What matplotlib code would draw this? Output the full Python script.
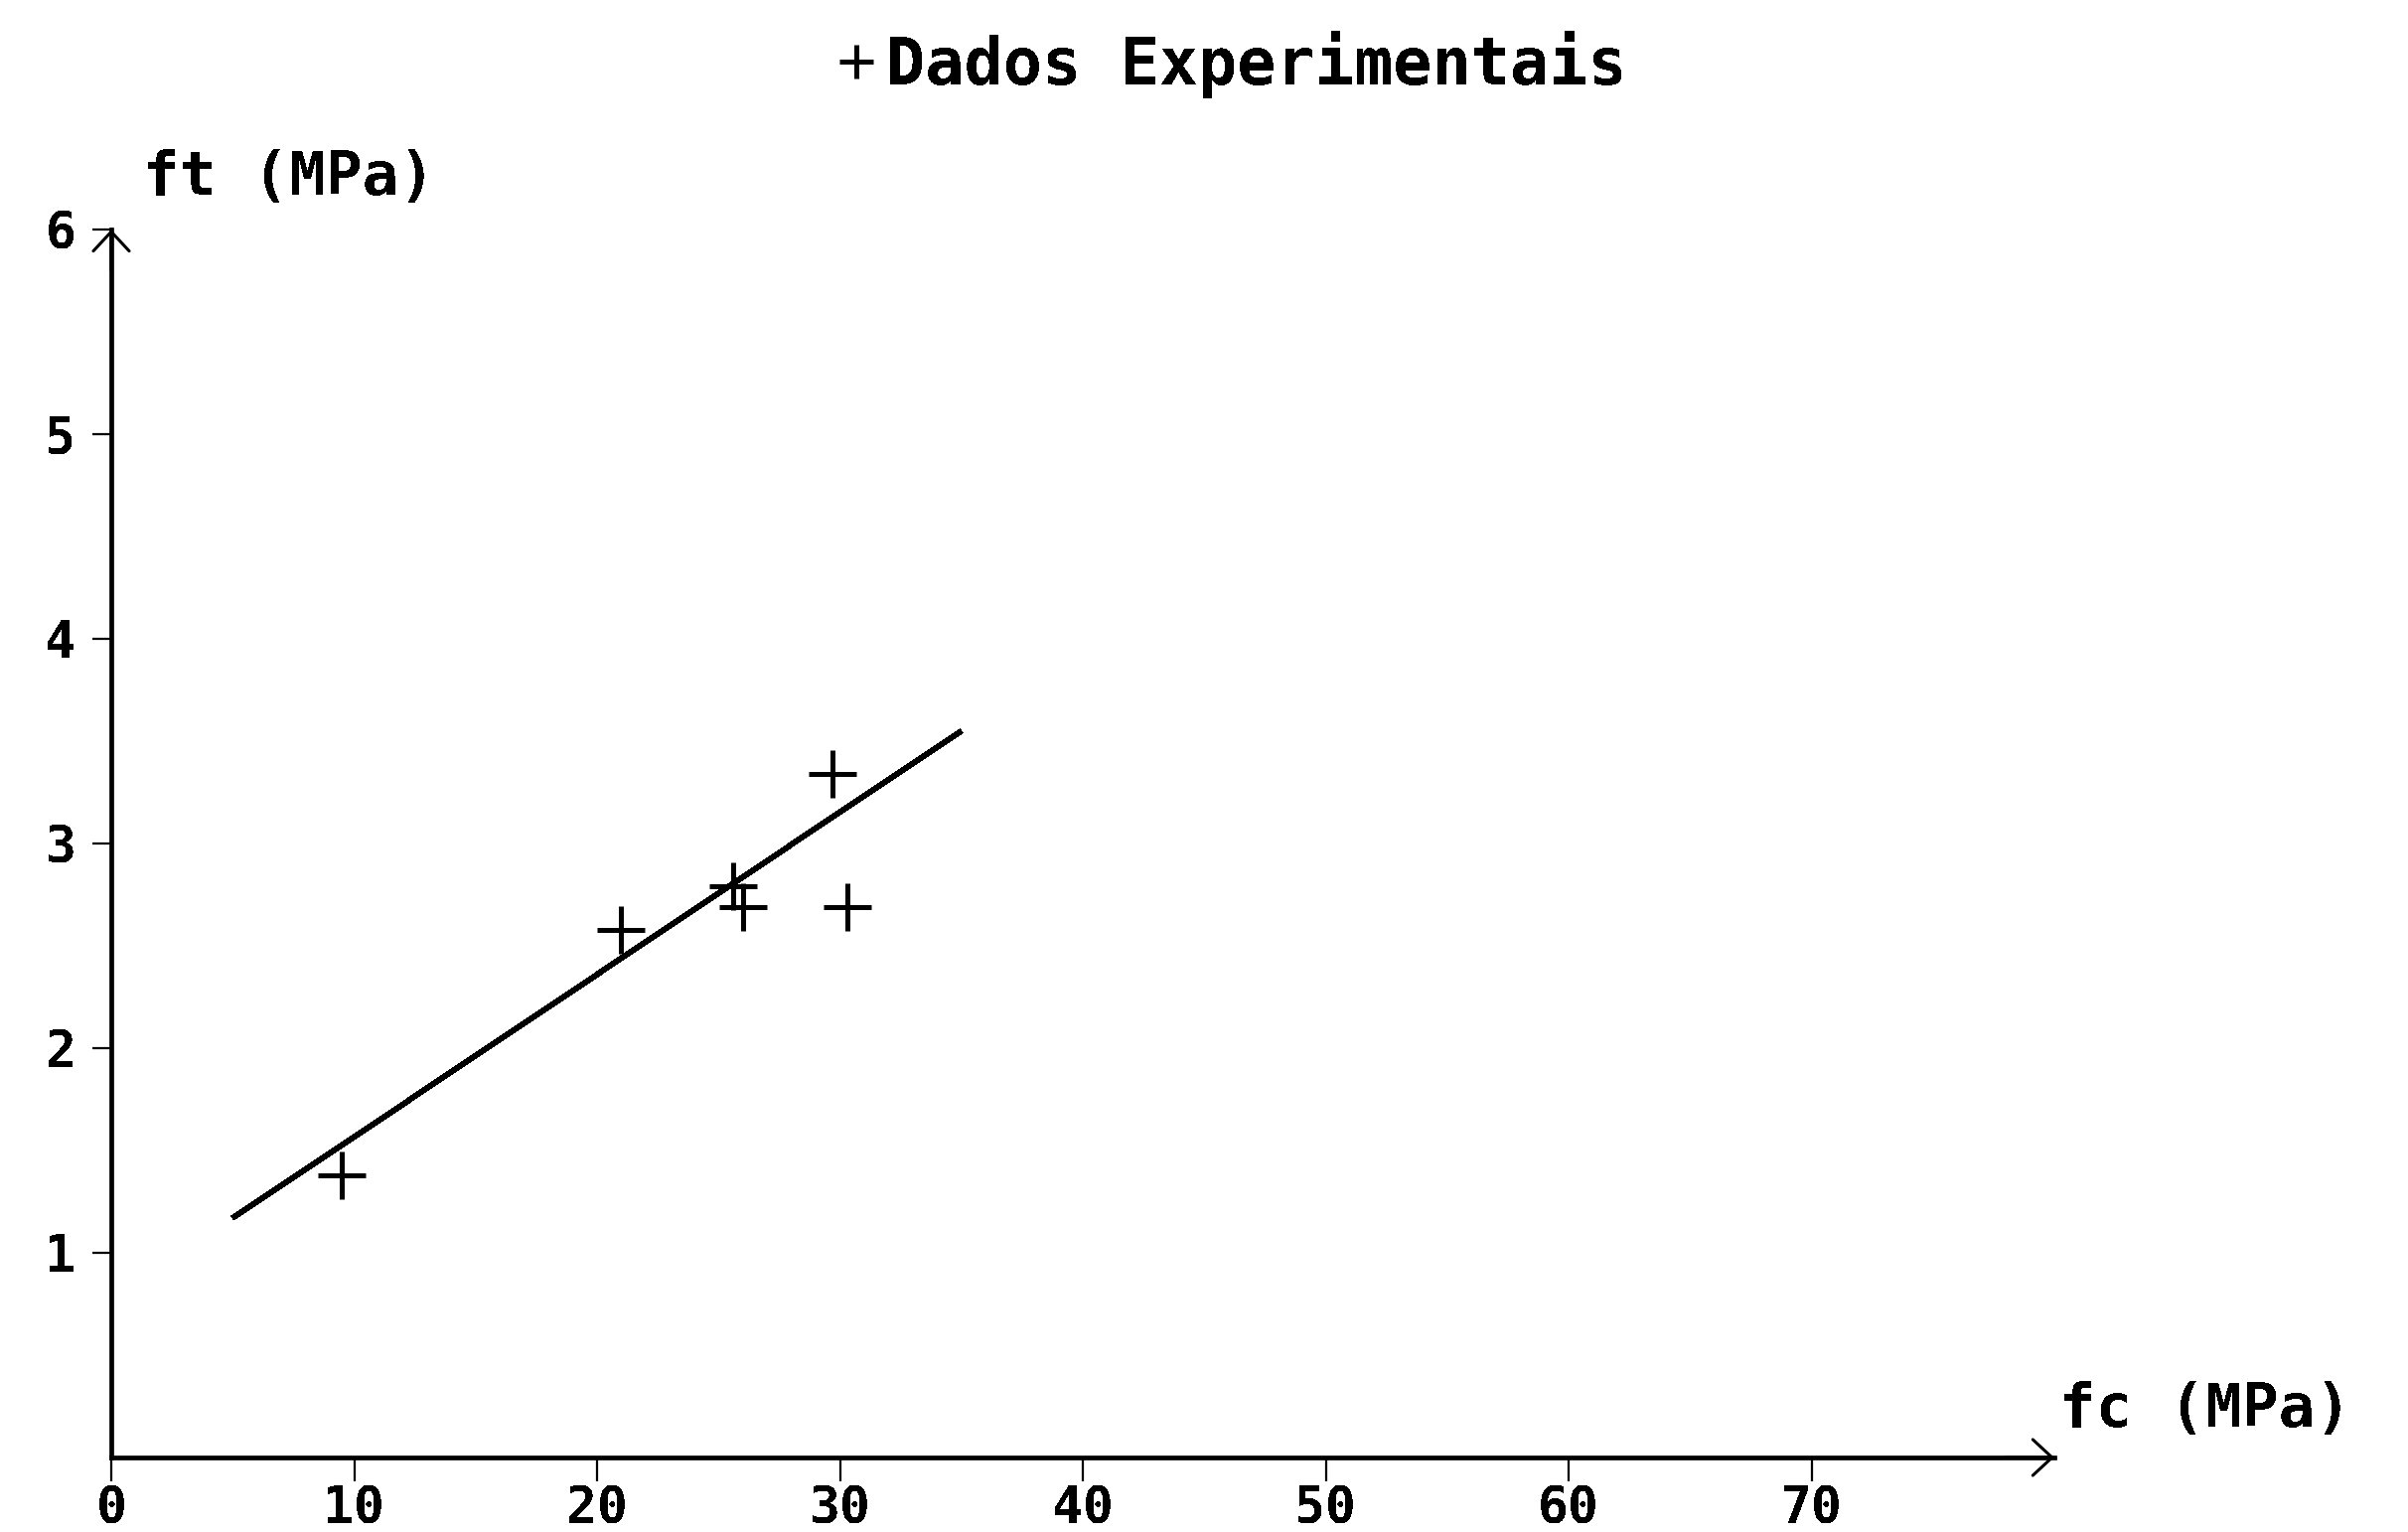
import matplotlib
matplotlib.use("Agg")
import matplotlib.pyplot as plt

# Experimental results: compressive strength fc vs tensile strength ft (MPa)
fc_data = [9.5, 21.0, 25.6, 26.0, 29.7, 30.3]
ft_data = [1.38, 2.58, 2.79, 2.69, 3.34, 2.69]

# Fitted straight line, end points
fit_fc = [5.0, 35.0]
fit_ft = [1.17, 3.55]

x_ticks = [0, 10, 20, 30, 40, 50, 60, 70]
y_ticks = [1, 2, 3, 4, 5, 6]
x_end = 80
y_end = 6

legend_label = "Dados Experimentais"
x_label = "fc (MPa)"
y_label = "ft (MPa)"

plt.rcParams["font.family"] = ["DejaVu Sans Mono", "DejaVu Sans"]
plt.rcParams["font.weight"] = "bold"
plt.rcParams["text.antialiased"] = False

W, H, DPI = 2424, 1542, 100
fig = plt.figure(figsize=(W / DPI, H / DPI), dpi=DPI, facecolor="white")
ax = fig.add_axes([0, 0, 1, 1])
ax.set_facecolor("white")

# pixel placement of the origin and scale of one data unit
ox, oy = 112, 1467
px_x, px_y = 24.45, 206.0
ax.set_xlim(-ox / px_x, (W - ox) / px_x)
ax.set_ylim(-(H - oy) / px_y, oy / px_y)

# axes drawn through the origin
for side in ("top", "right"):
    ax.spines[side].set_visible(False)
ax.spines["left"].set_position(("data", 0))
ax.spines["bottom"].set_position(("data", 0))
ax.spines["left"].set_bounds(0, y_end)
ax.spines["bottom"].set_bounds(0, x_end)
ax.spines["left"].set_linewidth(3.4)
ax.spines["bottom"].set_linewidth(3.4)

# arrow heads at the axis ends
arrow = dict(arrowstyle="->,head_length=0.7,head_width=0.65", lw=2.2,
             color="black", shrinkA=0, shrinkB=0, mutation_scale=20)
ax.annotate("", xy=(x_end, 0), xytext=(x_end - 2, 0), arrowprops=arrow)
ax.annotate("", xy=(0, y_end), xytext=(0, y_end - 0.2), arrowprops=arrow)

ax.set_xticks(x_ticks)
ax.set_xticklabels([str(v) for v in x_ticks])
ax.set_yticks(y_ticks)
ax.set_yticklabels([str(v) for v in y_ticks])
ax.tick_params(axis="x", direction="out", length=17, width=1.6, pad=3,
               labelsize=37, colors="black")
ax.tick_params(axis="y", direction="out", length=13.5, width=1.6, pad=12,
               labelsize=37, colors="black")

# data and fitted line
ax.plot(fit_fc, fit_ft, color="black", lw=3.4, antialiased=False,
        solid_capstyle="butt")
ax.plot(fc_data, ft_data, linestyle="none", marker="+", markersize=34,
        markeredgewidth=3.6, color="black", antialiased=False,
        label=legend_label)

# axis labels at the arrow ends
ax.set_ylabel(y_label, rotation=0, ha="left", va="center", fontsize=44,
              fontweight="bold")
ax.yaxis.set_label_coords(1.31, 6.25, transform=ax.transData)
ax.set_xlabel(x_label, ha="left", va="center", fontsize=44, fontweight="bold")
ax.xaxis.set_label_coords(80.2, 0.23, transform=ax.transData)

# legend used as the heading
leg = fig.legend(loc="center", bbox_to_anchor=(1240 / W, 1 - 65 / H),
                 frameon=False, fontsize=47, markerscale=0.7,
                 handlelength=0.6, handletextpad=0.15, borderpad=0)

fig.savefig("out.png", dpi=DPI, facecolor="white")
